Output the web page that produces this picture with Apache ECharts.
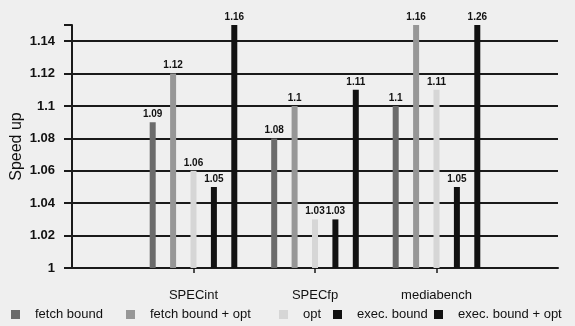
<!DOCTYPE html>
<html>
<head>
<meta charset="utf-8">
<script src="https://cdn.jsdelivr.net/npm/echarts@6/dist/echarts.min.js"></script>
<style>html,body{margin:0;padding:0;background:#efefef;}#c{width:575px;height:326px;}</style>
</head>
<body>
<div id="c"></div>
<script>
const categories = ['SPECint', 'SPECfp', 'mediabench'];
const seriesNames = ['fetch bound', 'fetch bound + opt', 'opt', 'exec. bound', 'exec. bound + opt'];
const fetchBound = [1.09, 1.08, 1.10];
const fetchBoundOpt = [1.12, 1.10, 1.16];
const optOnly = [1.06, 1.03, 1.11];
const execBound = [1.05, 1.03, 1.05];
const execBoundOpt = [1.16, 1.11, 1.26];
const yTicks = [1, 1.02, 1.04, 1.06, 1.08, 1.1, 1.12, 1.14];
const yMin = 1, yMax = 1.15;

const colors = ['#6b6b6b', '#979797', '#d6d6d6', '#111111', '#111111'];
const allValues = [fetchBound, fetchBoundOpt, optOnly, execBound, execBoundOpt];
const xData = [''].concat(categories, ['']);
const FONT = 'Liberation Sans, Arial, sans-serif';

const series = allValues.map((vals, i) => ({
  name: seriesNames[i],
  type: 'bar',
  barWidth: 6,
  barGap: '240%',
  itemStyle: { color: colors[i] },
  label: {
    show: true, position: 'top', distance: 3,
    fontFamily: FONT, fontSize: 10, fontWeight: 'bold', color: '#111',
    formatter: p => String(p.data.real)
  },
  data: ['-'].concat(vals.map(v => ({ value: Math.min(v, yMax), real: v })), ['-'])
}));

const legendLefts = [6, 121, 274, 328, 429];
const legends = seriesNames.map((n, i) => ({
  data: [n], left: legendLefts[i], top: 303,
  itemWidth: 9, itemHeight: 9, icon: 'rect',
  textStyle: { fontFamily: FONT, fontSize: 13, color: '#111', padding: [0, 0, 0, 10] }
}));

const chart = echarts.init(document.getElementById('c'), null, { renderer: 'canvas' });
chart.setOption({
  backgroundColor: '#efefef',
  animation: false,
  color: colors,
  grid: { left: 72, right: 17, top: 25, bottom: 58, containLabel: false, outerBoundsMode: 'none' },
  legend: legends,
  xAxis: {
    type: 'category', data: xData, boundaryGap: false,
    axisLine: { lineStyle: { color: '#1a1a1a', width: 2 } },
    axisTick: { show: true, length: 5, lineStyle: { color: '#1a1a1a', width: 1.5 }, interval: (i, v) => v !== '' },
    axisLabel: { margin: 21, fontFamily: FONT, fontSize: 13, color: '#111', interval: 0 },
    splitLine: { show: false }
  },
  yAxis: {
    type: 'value', min: yMin, max: yMax, interval: 0.02,
    name: 'Speed up', nameLocation: 'middle', nameGap: 47, nameRotate: 90, nameMoveOverlap: false,
    nameTextStyle: { fontFamily: FONT, fontSize: 16, color: '#111' },
    axisLine: { show: true, lineStyle: { color: '#1a1a1a', width: 2 } },
    axisTick: { show: true, length: 8, inside: false, lineStyle: { color: '#1a1a1a', width: 2 } },
    axisLabel: { margin: 17, fontFamily: FONT, fontSize: 13, fontWeight: 'bold', color: '#111',
      formatter: v => (yTicks.some(t => Math.abs(t - v) < 1e-6) ? String(+v.toFixed(2)) : '') },
    splitLine: { show: true, showMaxLine: false, lineStyle: { color: '#1a1a1a', width: 2 } }
  },
  series: series
});
</script>
</body>
</html>
